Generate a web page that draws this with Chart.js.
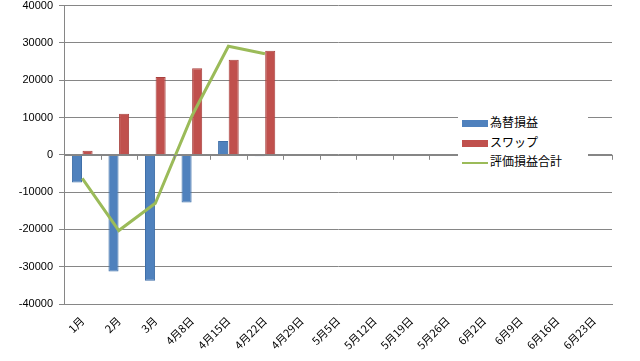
<!DOCTYPE html>
<html><head><meta charset="utf-8">
<script src="https://cdn.jsdelivr.net/npm/chart.js@4/dist/chart.umd.min.js"></script>
<style>
html,body{margin:0;padding:0;background:#fff;overflow:hidden;}
#wrap{position:relative;width:640px;height:361px;overflow:hidden;}
#c{position:absolute;left:0;top:-7px;}
#legend{position:absolute;left:458px;top:110px;width:126px;background:#fff;padding:2px 0 2px 4px;font-family:"Noto Sans CJK JP","Liberation Sans",sans-serif;font-size:12px;color:#000;}
#legend div{height:19.5px;line-height:19.5px;white-space:nowrap;}
#legend span.sw{display:inline-block;width:26px;vertical-align:middle;margin-right:2px;}
</style></head>
<body><div id="wrap"><canvas id="c" width="640" height="368"></canvas>
<div id="legend"></div></div>
<script>
const categories = ["1月","2月","3月","4月8日","4月15日","4月22日","4月29日","5月5日","5月12日","5月19日","5月26日","6月2日","6月9日","6月16日","6月23日"];
const seriesNames = ["為替損益","スワップ","評価損益合計"];
const fxPL = [-7400,-31300,-33800,-12800,3700,-400,null,null,null,null,null,null,null,null,null];
const swap = [1100,11000,20850,23200,25500,27900,null,null,null,null,null,null,null,null,null];
const totalPL = [-6300,-20300,-13000,10400,29100,27100,null,null,null,null,null,null,null,null,null];
const yTicks = [-40000,-30000,-20000,-10000,0,10000,20000,30000,40000];

const colors = ["#4F81BD","#C0504D","#9BBB59"];
const borders = ["#3F6FA8","#A8403D","#9BBB59"];

const zeroTicks = {
  id:'zeroTicks',
  afterDatasetsDraw(chart){
    const {ctx, scales:{x,y}} = chart;
    const y0 = y.getPixelForValue(0);
    ctx.save();
    ctx.strokeStyle = '#868686'; ctx.lineWidth = 1;
    ctx.beginPath();
    ctx.moveTo(x.left, Math.round(y0)+0.5); ctx.lineTo(x.right, Math.round(y0)+0.5);
    const n = categories.length;
    for(let i=1;i<=n;i++){
      const px = Math.round(x.left + (x.right-x.left)*i/n)+0.5;
      ctx.moveTo(px, y0); ctx.lineTo(px, y0+5);
    }
    ctx.stroke();
    ctx.restore();
  }
};

new Chart(document.getElementById('c'), {
  type:'bar',
  data:{
    labels: categories,
    datasets:[
      {type:'line', label:seriesNames[2], data: totalPL, borderColor:colors[2], backgroundColor:colors[2], borderWidth:3, pointRadius:0, tension:0, order:0, spanGaps:false},
      {label:seriesNames[0], data: fxPL, backgroundColor:colors[0], borderColor:borders[0], borderWidth:1, order:1, categoryPercentage:0.58, barPercentage:0.95},
      {label:seriesNames[1], data: swap, backgroundColor:colors[1], borderColor:borders[1], borderWidth:1, order:1, categoryPercentage:0.58, barPercentage:0.95}
    ]
  },
  options:{
    responsive:false, animation:false,
    layout:{padding:{top:0,right:28,left:0,bottom:0}},
    plugins:{legend:{display:false}, tooltip:{enabled:false}},
    scales:{
      x:{
        afterFit(scale){ scale.height = 57; },
        grid:{display:false, drawTicks:false},
        border:{display:true, color:'#868686'},
        ticks:{maxRotation:45, minRotation:45, autoSkip:false, color:'#000', padding:10,
          font:{family:'"Noto Sans CJK JP","Liberation Sans",sans-serif', size:11}}
      },
      y:{
        min:-40000, max:40000,
        afterBuildTicks(scale){ scale.ticks = yTicks.map(v=>({value:v})); },
        afterFit(scale){ scale.width = 64; },
        grid:{color:'#868686', tickLength:5, tickColor:'#868686'},
        border:{display:true, color:'#868686'},
        ticks:{color:'#000', padding:6, callback:v=>String(v), font:{family:'"Liberation Sans",sans-serif', size:11}}
      }
    }
  },
  plugins:[zeroTicks]
});

const lg = document.getElementById('legend');
[0,1,2].forEach(i=>{
  const d = document.createElement('div');
  const sw = document.createElement('span'); sw.className='sw';
  if(i<2){ sw.style.height='7px'; sw.style.background=colors[i]; }
  else { sw.style.height='2px'; sw.style.background=colors[2]; }
  d.appendChild(sw);
  d.appendChild(document.createTextNode(seriesNames[i]));
  lg.appendChild(d);
});
</script></body></html>
